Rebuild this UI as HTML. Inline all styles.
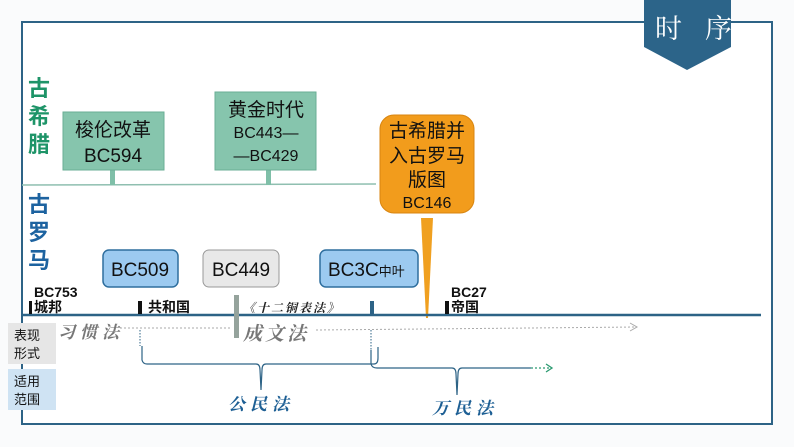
<!DOCTYPE html>
<html><head><meta charset="utf-8"><style>
html,body{margin:0;padding:0;background:#fafbfc;}
svg{display:block;font-family:"Liberation Sans","Noto Sans CJK SC",sans-serif;}
.k{font-family:"Noto Serif CJK SC","Liberation Serif",serif;font-style:italic;font-weight:bold;}
</style></head><body>
<svg width="794" height="447" viewBox="0 0 794 447" xmlns="http://www.w3.org/2000/svg">
<rect width="794" height="447" fill="#fafbfc"/>
<rect x="22" y="22" width="750" height="402" fill="#fff" stroke="#2d6386" stroke-width="2"/>
<polygon points="644,0 731,0 731,47 687,70 644,47" fill="#2c6489"/>
<text x="655" y="38" font-size="27" fill="#fff" font-family="Noto Serif CJK SC,serif">时</text>
<text x="705" y="38" font-size="27" fill="#fff" font-family="Noto Serif CJK SC,serif">序</text>
<g font-size="22" font-weight="bold" fill="#1e9468">
<text x="28" y="96">古</text><text x="28" y="124">希</text><text x="28" y="152">腊</text></g>
<g font-size="22" font-weight="bold" fill="#1d63a0">
<text x="28" y="212">古</text><text x="28" y="240">罗</text><text x="28" y="268">马</text></g>
<line x1="22" y1="185" x2="376" y2="184" stroke="#8fbfb0" stroke-width="1.5"/>
<rect x="110" y="170" width="5" height="15" fill="#7fbfa8"/>
<rect x="266" y="170" width="5" height="15" fill="#7fbfa8"/>
<rect x="63" y="112" width="101" height="58" fill="#86c5ad" stroke="#6aae95"/>
<text x="113" y="136" font-size="19" text-anchor="middle" fill="#111">梭伦改革</text>
<text x="113" y="162" font-size="19" text-anchor="middle" fill="#111">BC594</text>
<rect x="215" y="92" width="101" height="78" fill="#86c5ad" stroke="#6aae95"/>
<text x="266" y="116" font-size="19" text-anchor="middle" fill="#111">黄金时代</text>
<text x="266" y="138" font-size="16" text-anchor="middle" fill="#111">BC443—</text>
<text x="266" y="161" font-size="16" text-anchor="middle" fill="#111">—BC429</text>
<polygon points="421,218 433,218 428,318 426,318" fill="#f0a020"/>
<rect x="380" y="115" width="94" height="98" rx="14" fill="#f29c1c" stroke="#d88510"/>
<g font-size="19" text-anchor="middle" fill="#111">
<text x="427" y="137">古希腊并</text><text x="427" y="162">入古罗马</text><text x="427" y="186">版图</text></g>
<text x="427" y="208" font-size="16" text-anchor="middle" fill="#111">BC146</text>
<rect x="103" y="250" width="75" height="37" rx="6" fill="#9ccaf0" stroke="#2e6e9e" stroke-width="1.5"/>
<text x="140" y="276" font-size="19" text-anchor="middle" fill="#111">BC509</text>
<rect x="203" y="250" width="76" height="37" rx="6" fill="#e8e8e8" stroke="#999"/>
<text x="241" y="276" font-size="19" text-anchor="middle" fill="#111">BC449</text>
<rect x="320" y="250" width="98" height="37" rx="6" fill="#9ccaf0" stroke="#2e6e9e" stroke-width="1.5"/>
<text x="328" y="276" font-size="19" fill="#111">BC3C<tspan font-size="13">中叶</tspan></text>
<line x1="22" y1="315" x2="761" y2="315" stroke="#2d6386" stroke-width="2.5"/>
<g font-size="14" font-weight="bold" fill="#111">
<text x="34" y="297">BC753</text><text x="34" y="312">城邦</text>
<text x="148" y="312">共和国</text>
<text x="451" y="297">BC27</text><text x="451" y="312">帝国</text></g>
<rect x="29" y="301" width="3" height="13" fill="#111"/>
<rect x="138" y="301" width="4" height="13" fill="#111"/>
<rect x="445" y="301" width="4" height="13" fill="#111"/>
<rect x="370" y="301" width="4" height="13" fill="#2d6386"/>
<rect x="234" y="295" width="5" height="43" fill="#95a39c"/>
<text x="243" y="312" font-size="12" class="k" fill="#222" letter-spacing="2">《十二铜表法》</text>
<line x1="120" y1="328" x2="230" y2="328" stroke="#aaa" stroke-dasharray="2,2"/>
<line x1="316" y1="330" x2="636" y2="327" stroke="#aaa" stroke-dasharray="2,2"/>
<polyline points="630,323 637,327 630,331" fill="none" stroke="#aaa"/>
<text x="58" y="338" font-size="17" class="k" fill="#777" letter-spacing="5">习惯法</text>
<text x="243" y="340" font-size="19" class="k" fill="#777" letter-spacing="3">成文法</text>
<rect x="8" y="323" width="48" height="41" fill="#e6e6e6"/>
<text x="14" y="340" font-size="13" fill="#111">表现</text><text x="14" y="358" font-size="13" fill="#111">形式</text>
<rect x="8" y="369" width="48" height="41" fill="#cfe3f3"/>
<text x="14" y="386" font-size="13" fill="#111">适用</text><text x="14" y="404" font-size="13" fill="#111">范围</text>
<line x1="140" y1="330" x2="140" y2="346" stroke="#2d6386" stroke-dasharray="1.5,1.5"/>
<path d="M142,346 L142,360 Q143,364 147,364 L256,364 Q260,364 260,370 L261,390 L262,370 Q262,364 266,364 L374,364 Q378,364 378,358 L378,347" fill="none" stroke="#2d6386" stroke-width="1.2"/>
<line x1="371" y1="330" x2="371" y2="350" stroke="#2d6386" stroke-dasharray="1.5,1.5"/>
<path d="M371,350 L371,364 Q372,368 377,368 L452,368 Q456,368 456,374 L457,395 L458,374 Q458,368 462,368 L531,368" fill="none" stroke="#2d6386" stroke-width="1.2"/>
<line x1="531" y1="368" x2="551" y2="368" stroke="#2a9a70" stroke-dasharray="2,2" stroke-width="1.3"/>
<polyline points="546,364 552,368 546,372" fill="none" stroke="#2a9a70" stroke-width="1.3"/>
<text x="228" y="410" font-size="17" class="k" fill="#1d5f94" letter-spacing="5">公民法</text>
<text x="432" y="414" font-size="17" class="k" fill="#1d5f94" letter-spacing="5">万民法</text>
</svg>
</body></html>
